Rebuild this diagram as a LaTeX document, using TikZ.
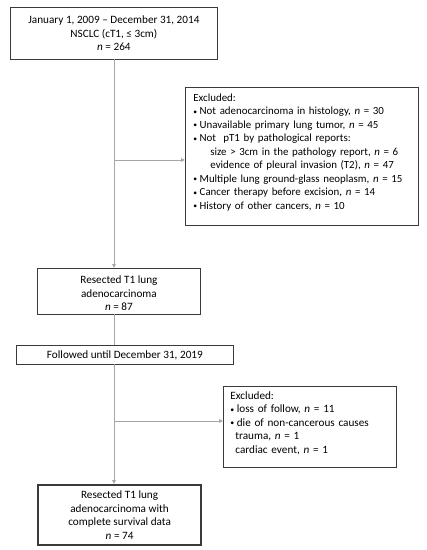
\documentclass[tikz,border=0pt]{standalone}
\usepackage{fontspec}
\setmainfont{Carlito}
\usetikzlibrary{arrows.meta}
\definecolor{boxline}{HTML}{3A3A3A}
\definecolor{conn}{HTML}{A6A6A6}
\newcommand{\blt}{\raisebox{0.6pt}{\scalebox{0.7}{•}}\hspace{2.5pt}}
\begin{document}
\begin{tikzpicture}[x=1pt,y=-1pt,
  txt/.style={font=\fontsize{11.2}{13.5}\selectfont},
  cbox/.style={txt,draw=boxline,line width=0.8pt,inner xsep=0pt,inner ysep=0pt,align=center,anchor=north west},
  lbox/.style={txt,draw=boxline,line width=0.8pt,inner ysep=0pt,align=left,anchor=north west},
  conline/.style={draw=conn,line width=0.9pt},
  arr/.style={conline,-{Triangle[length=4pt,width=3.5pt]}}]
\useasboundingbox (0,0) rectangle (427,550);
% boxes
\node[cbox,minimum width=207pt,minimum height=52pt] (b1) at (10,7)
  {January 1, 2009 -- December 31, 2014\\NSCLC (cT1, ≤ 3cm)\\\textit{n} = 264};
\node[lbox,font=\fontsize{10.9}{13.5}\selectfont,inner xsep=8pt,text width=217pt,minimum height=138pt] (b2) at (185,87)
  {Excluded:\\
   \blt Not adenocarcinoma in histology, \textit{n} = 30\\
   \blt Unavailable primary lung tumor, \textit{n} = 45\\
   \blt Not\ \ pT1 by pathological reports:\\
   \hspace*{17pt}size > 3cm in the pathology report, \textit{n} = 6\\
   \hspace*{17pt}evidence of pleural invasion (T2), \textit{n} = 47\\
   \mbox{\blt Multiple lung ground-glass neoplasm, \textit{n} = 15}\\
   \blt Cancer therapy before excision, \textit{n} = 14\\
   \blt History of other cancers, \textit{n} = 10\rule[-10pt]{0pt}{10pt}};
\node[cbox,minimum width=163pt,minimum height=46pt] (b3) at (37,268)
  {\rule{0pt}{12pt}Resected T1 lung\\adenocarcinoma\\\textit{n} = 87};
\node[cbox,minimum width=217pt,minimum height=19pt] (b4) at (16,345)
  {Followed until December 31, 2019};
\node[lbox,inner xsep=7pt,text width=159pt,minimum height=81pt] (b5) at (223,386)
  {Excluded:\\
   \blt loss of follow, \textit{n} = 11\\
   \blt die of non-cancerous causes\\
   \hspace*{5pt}trauma, \textit{n} = 1\\
   \hspace*{5pt}cardiac event, \textit{n} = 1\rule[-9pt]{0pt}{9pt}};
\node[cbox,line width=2.2pt,minimum width=163pt,minimum height=60pt] (b6) at (37,484)
  {Resected T1 lung\\adenocarcinoma with\\complete survival data\\\textit{n} = 74};
% connectors
\coordinate (top1) at (114,59);
\coordinate (top2) at (114,314);
\coordinate (top3) at (114,364);
\draw[arr] (top1) -- (top1 |- b3.north);
\coordinate (j1) at (114,160);
\draw[arr] (j1) -- (j1 -| b2.west);
\draw[conline] (top2) -- (top2 |- b4.north);
\draw[arr] (top3) -- (top3 |- b6.north);
\coordinate (j2) at (114,421);
\draw[arr] (j2) -- (j2 -| b5.west);
\end{tikzpicture}
\end{document}
